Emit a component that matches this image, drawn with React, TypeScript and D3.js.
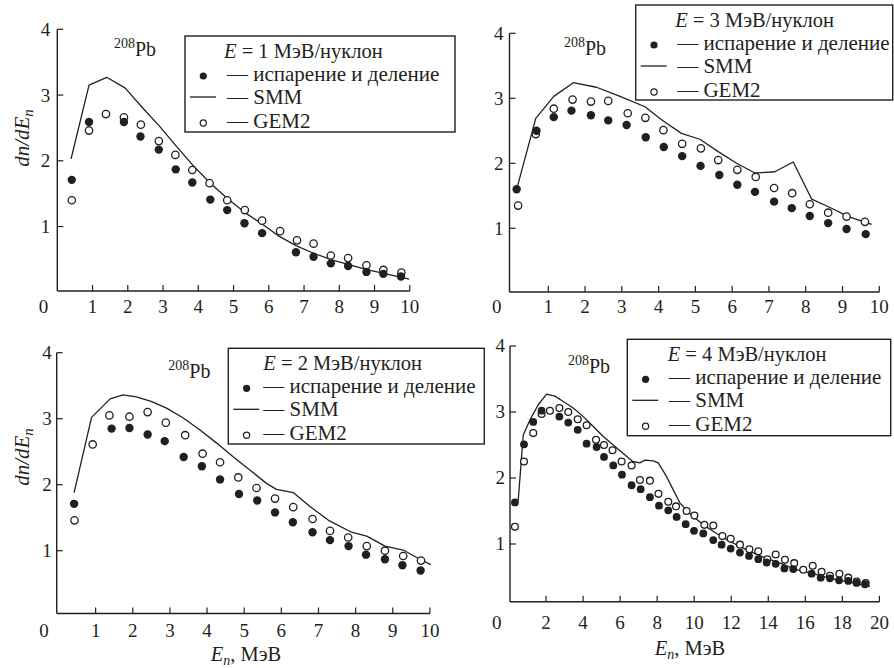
import React from 'react';
import * as d3 from 'd3';

type Pt = [number, number];

// ---------- text / ticks ----------
const energies = ['1', '3', '2', '4'];
const legendLabels = ['испарение и деление', 'SMM', 'GEM2'];
const xTicks10 = [1, 2, 3, 4, 5, 6, 7, 8, 9, 10];
const xTicks20 = [2, 4, 6, 8, 10, 12, 14, 16, 18, 20];
const yTicks = [1, 2, 3, 4];

// ---------- panel 1: E = 1 MeV/nucleon ----------
const p1Evap: Pt[] = [
  [0.41, 1.71], [0.9, 2.59], [1.89, 2.59], [2.36, 2.37], [2.88, 2.17], [3.36, 1.87],
  [3.83, 1.67], [4.34, 1.41], [4.82, 1.25], [5.31, 1.05], [5.81, 0.9], [6.77, 0.61],
  [7.27, 0.54], [7.76, 0.44], [8.25, 0.4], [8.77, 0.31], [9.25, 0.28], [9.75, 0.24],
];
const p1Gem: Pt[] = [
  [0.41, 1.4], [0.9, 2.46], [1.38, 2.71], [1.89, 2.66], [2.37, 2.55], [2.88, 2.3],
  [3.35, 2.09], [3.83, 1.86], [4.32, 1.66], [4.82, 1.4], [5.32, 1.25], [5.81, 1.09],
  [6.32, 0.93], [6.8, 0.79], [7.27, 0.74], [7.76, 0.56], [8.25, 0.52], [8.77, 0.41],
  [9.25, 0.34], [9.76, 0.3],
];
const p1Smm: Pt[] = [
  [0.39, 2.03], [0.9, 3.15], [1.4, 3.27], [1.92, 3.11], [2.43, 2.8], [2.91, 2.52],
  [3.38, 2.22], [3.85, 1.93], [4.32, 1.67], [4.84, 1.42], [5.36, 1.2], [5.83, 1.03],
  [6.3, 0.85], [6.77, 0.71], [7.29, 0.59], [7.81, 0.49], [8.28, 0.42], [8.75, 0.35],
  [9.23, 0.29], [9.98, 0.2],
];

// ---------- panel 2: E = 3 MeV/nucleon ----------
const p2Evap: Pt[] = [
  [0.14, 1.6], [0.68, 2.5], [1.15, 2.71], [1.63, 2.81], [2.16, 2.74], [2.63, 2.66],
  [3.13, 2.59], [3.65, 2.4], [4.14, 2.25], [4.64, 2.11], [5.14, 1.96], [5.65, 1.82],
  [6.14, 1.67], [6.62, 1.56], [7.14, 1.41], [7.62, 1.31], [8.11, 1.19], [8.61, 1.08],
  [9.11, 0.99], [9.63, 0.91],
];
const p2Gem: Pt[] = [
  [0.18, 1.35], [0.66, 2.45], [1.15, 2.84], [1.66, 2.98], [2.16, 2.95], [2.63, 2.96],
  [3.16, 2.77], [3.64, 2.7], [4.13, 2.51], [4.64, 2.3], [5.15, 2.23], [5.62, 2.05],
  [6.14, 1.9], [6.64, 1.79], [7.14, 1.62], [7.63, 1.54], [8.11, 1.37], [8.61, 1.24],
  [9.11, 1.18], [9.61, 1.1],
];
const p2Smm: Pt[] = [
  [0.14, 1.6], [0.66, 2.69], [1.15, 3.03], [1.68, 3.24], [2.31, 3.17], [2.95, 3.03],
  [3.63, 2.87], [4.08, 2.67], [4.62, 2.46], [5.12, 2.37], [5.62, 2.18], [6.12, 2.0],
  [6.62, 1.85], [7.16, 1.87], [7.66, 2.02], [8.16, 1.45], [8.66, 1.32], [9.16, 1.18],
  [9.79, 1.06],
];

// ---------- panel 3: E = 2 MeV/nucleon ----------
const p3Evap: Pt[] = [
  [0.42, 1.71], [1.43, 2.85], [1.91, 2.86], [2.4, 2.76], [2.86, 2.66], [3.37, 2.42],
  [3.86, 2.28], [4.35, 2.08], [4.86, 1.86], [5.35, 1.76], [5.83, 1.58], [6.31, 1.43],
  [6.84, 1.28], [7.31, 1.16], [7.81, 1.07], [8.28, 0.94], [8.79, 0.87], [9.26, 0.78],
  [9.75, 0.7],
];
const p3Gem: Pt[] = [
  [0.43, 1.46], [0.92, 2.61], [1.37, 3.05], [1.91, 3.03], [2.4, 3.1], [2.89, 2.94],
  [3.41, 2.75], [3.88, 2.47], [4.35, 2.34], [4.84, 2.11], [5.33, 1.95], [5.83, 1.79],
  [6.32, 1.66], [6.84, 1.48], [7.31, 1.3], [7.8, 1.2], [8.3, 1.07], [8.79, 1.0],
  [9.28, 0.92], [9.76, 0.85],
];
const p3Smm: Pt[] = [
  [0.42, 1.88], [0.89, 3.02], [1.39, 3.3], [1.74, 3.36], [2.1, 3.33], [2.51, 3.26],
  [2.91, 3.16], [3.36, 3.01], [3.81, 2.83], [4.26, 2.63], [4.71, 2.42], [5.16, 2.22],
  [5.6, 2.02], [5.87, 1.93], [6.32, 1.88], [6.77, 1.67], [7.27, 1.46], [7.89, 1.28],
  [8.3, 1.22], [8.79, 1.07], [9.28, 1.01], [9.73, 0.87], [10.02, 0.79],
];

// ---------- panel 4: E = 4 MeV/nucleon ----------
const p4Evap: Pt[] = [
  [0.32, 1.63], [0.81, 2.51], [1.31, 2.85], [1.76, 3.02], [2.72, 2.93], [3.2, 2.84],
  [3.71, 2.73], [4.19, 2.52], [4.73, 2.47], [5.13, 2.32], [5.63, 2.19], [6.1, 2.05],
  [6.62, 1.89], [7.11, 1.83], [7.61, 1.71], [8.1, 1.58], [8.6, 1.51], [9.05, 1.41],
  [9.54, 1.3], [9.99, 1.2], [10.49, 1.16], [11.03, 1.06], [11.48, 0.99], [11.97, 0.93],
  [12.47, 0.87], [12.96, 0.82], [13.46, 0.77], [13.91, 0.72], [14.4, 0.7], [14.87, 0.63],
  [15.35, 0.62], [16.34, 0.55], [16.83, 0.49], [17.33, 0.48], [17.82, 0.45], [18.32, 0.44],
  [18.77, 0.41], [19.22, 0.39],
];
const p4Gem: Pt[] = [
  [0.32, 1.26], [0.81, 2.25], [1.31, 2.68], [1.76, 2.97], [2.21, 3.02], [2.72, 3.06],
  [3.2, 3.0], [3.71, 2.89], [4.19, 2.8], [4.7, 2.58], [5.13, 2.5], [5.59, 2.42],
  [6.08, 2.25], [6.62, 2.19], [7.07, 1.97], [7.61, 1.96], [8.07, 1.76], [8.6, 1.64],
  [9.02, 1.57], [9.59, 1.5], [10.01, 1.43], [10.55, 1.29], [11.03, 1.28], [11.52, 1.12],
  [11.97, 1.08], [12.47, 0.99], [12.98, 0.92], [13.46, 0.89], [13.95, 0.77], [14.4, 0.84],
  [14.9, 0.76], [15.4, 0.71], [15.89, 0.61], [16.4, 0.67], [16.88, 0.58], [17.33, 0.52],
  [17.84, 0.55], [18.32, 0.49], [18.77, 0.43], [19.26, 0.41],
];
const p4Smm: Pt[] = [
  [0.32, 1.63], [0.5, 1.67], [0.77, 2.65], [1.13, 2.88], [1.58, 3.11], [2.03, 3.27],
  [2.48, 3.24], [2.93, 3.16], [3.47, 3.06], [4.01, 2.93], [4.55, 2.78], [5.09, 2.63],
  [5.63, 2.5], [6.17, 2.37], [6.68, 2.25], [7.07, 2.23], [7.34, 2.27], [7.79, 2.26],
  [8.06, 2.23], [8.51, 2.02], [8.87, 1.82], [9.23, 1.62], [9.77, 1.46], [10.49, 1.29],
  [11.21, 1.16], [11.93, 1.04], [12.83, 0.91], [13.73, 0.8], [14.63, 0.71], [15.53, 0.61],
  [16.43, 0.55], [17.33, 0.48], [18.23, 0.43], [19.49, 0.36],
];

const FONT = 'Liberation Serif';
const INK = '#231f20';

interface Layout {
  xPx: [number, number];
  xMax: number;
  yPx: [number, number];
  axisX: number;
  axisY: number;
  xTicks: number[];
  tickBase: number;
  zeroX: number;
  yLabelDx: number;
  legend: { x: number; y: number; w: number; h: number; textDx: number; titleDx: number };
  pb: [number, number];
  yTitle?: [number, number];
  xTitle?: [number, number];
  r: number;
}

const layouts: Layout[] = [
  {
    xPx: [57.3, 409.8], xMax: 10, yPx: [292.3, 29.3], axisX: 57.3, axisY: 291,
    xTicks: xTicks10, tickBase: 313, zeroX: 43.5, yLabelDx: 7,
    legend: { x: 185, y: 36, w: 270, h: 96, textDx: 42, titleDx: 39 },
    pb: [114, 56], yTitle: [29, 138], r: 4.2,
  },
  {
    xPx: [511.5, 879.3], xMax: 10, yPx: [293.3, 33.3], axisX: 509.5, axisY: 292,
    xTicks: xTicks10, tickBase: 313, zeroX: 496.7, yLabelDx: 6,
    legend: { x: 635.7, y: 5, w: 257, h: 95, textDx: 41.5, titleDx: 39.5 },
    pb: [564, 55], r: 4.2,
  },
  {
    xPx: [58.5, 429.9], xMax: 10, yPx: [616.7, 352.7], axisX: 56.7, axisY: 613.5,
    xTicks: xTicks10, tickBase: 636.5, zeroX: 44, yLabelDx: 5,
    legend: { x: 228.3, y: 348.3, w: 256, h: 95.7, textDx: 35, titleDx: 35 },
    pb: [168.3, 378.3], yTitle: [29, 457], xTitle: [246, 661], r: 4.2,
  },
  {
    xPx: [509, 879.4], xMax: 20, yPx: [610, 346], axisX: 510, axisY: 601.7,
    xTicks: xTicks20, tickBase: 628.5, zeroX: 496.7, yLabelDx: 5,
    legend: { x: 627.3, y: 339.3, w: 263.4, h: 96.4, textDx: 41.7, titleDx: 40.4 },
    pb: [568, 373.3], xTitle: [690, 655], r: 3.9,
  },
];

const panelData: { evap: Pt[]; smm: Pt[]; gem: Pt[] }[] = [
  { evap: p1Evap, smm: p1Smm, gem: p1Gem },
  { evap: p2Evap, smm: p2Smm, gem: p2Gem },
  { evap: p3Evap, smm: p3Smm, gem: p3Gem },
  { evap: p4Evap, smm: p4Smm, gem: p4Gem },
];

function Panel({ L, D, energy }: { L: Layout; D: { evap: Pt[]; smm: Pt[]; gem: Pt[] }; energy: string }) {
  const x = d3.scaleLinear().domain([0, L.xMax]).range(L.xPx);
  const y = d3.scaleLinear().domain([0, 4]).range(L.yPx);
  const line = d3.line<Pt>().x((d) => x(d[0])).y((d) => y(d[1]));
  const lg = L.legend;
  const top = y(4);
  const xEnd = x(L.xMax);
  return (
    <g>
      <line x1={L.axisX} x2={L.axisX} y1={L.axisY} y2={top} stroke={INK} strokeWidth={1.4} />
      <line x1={L.axisX} x2={xEnd} y1={L.axisY} y2={L.axisY} stroke={INK} strokeWidth={1.4} />
      {yTicks.map((t) => (
        <g key={'y' + t}>
          <line x1={L.axisX} x2={L.axisX + 6} y1={y(t)} y2={y(t)} stroke={INK} strokeWidth={1.2} />
          <text x={L.axisX - L.yLabelDx} y={y(t)} dy="0.34em" textAnchor="end" fontFamily={FONT} fontSize={19} fill={INK}>
            {t}
          </text>
        </g>
      ))}
      {L.xTicks.map((t) => (
        <g key={'x' + t}>
          <line x1={x(t)} x2={x(t)} y1={L.axisY} y2={L.axisY - 6} stroke={INK} strokeWidth={1.2} />
          <text x={x(t)} y={L.tickBase} textAnchor="middle" fontFamily={FONT} fontSize={19} fill={INK}>
            {t}
          </text>
        </g>
      ))}
      <text x={L.zeroX} y={L.tickBase} textAnchor="middle" fontFamily={FONT} fontSize={19} fill={INK}>
        0
      </text>

      <path d={line(D.smm) || ''} fill="none" stroke={INK} strokeWidth={1.3} strokeLinejoin="round" />
      {D.gem.map((d, i) => (
        <circle key={'g' + i} cx={x(d[0])} cy={y(d[1])} r={L.r - 0.5} fill="#fff" stroke={INK} strokeWidth={1.3} />
      ))}
      {D.evap.map((d, i) => (
        <circle key={'e' + i} cx={x(d[0])} cy={y(d[1])} r={L.r} fill={INK} />
      ))}

      <text x={L.pb[0]} y={L.pb[1]} fill={INK} fontFamily={FONT} fontSize={20}>
        <tspan fontSize={14} dy={-8}>208</tspan>
        <tspan fontSize={20} dy={8}>Pb</tspan>
      </text>

      <rect x={lg.x} y={lg.y} width={lg.w} height={lg.h} fill="#fff" stroke={INK} strokeWidth={1.4} />
      <text x={lg.x + lg.titleDx} y={lg.y + 22} fontFamily={FONT} fontSize={20.5} fill={INK}>
        <tspan fontStyle="italic">E</tspan>
        <tspan>{' = ' + energy + ' МэВ/нуклон'}</tspan>
      </text>
      <circle cx={lg.x + 18.3} cy={lg.y + 40} r={3.6} fill={INK} />
      <text x={lg.x + lg.textDx} y={lg.y + 45} fontFamily={FONT} fontSize={21} fill={INK}>
        {'— ' + legendLabels[0]}
      </text>
      <line x1={lg.x + 5} x2={lg.x + 31} y1={lg.y + 61} y2={lg.y + 61} stroke={INK} strokeWidth={1.3} />
      <text x={lg.x + lg.textDx} y={lg.y + 67.5} fontFamily={FONT} fontSize={21} fill={INK}>
        {'— ' + legendLabels[1]}
      </text>
      <circle cx={lg.x + 18.3} cy={lg.y + 87} r={3.1} fill="#fff" stroke={INK} strokeWidth={1.2} />
      <text x={lg.x + lg.textDx} y={lg.y + 91.5} fontFamily={FONT} fontSize={21} fill={INK}>
        {'— ' + legendLabels[2]}
      </text>

      {L.yTitle && (
        <text
          transform={`translate(${L.yTitle[0]},${L.yTitle[1]}) rotate(-90)`}
          textAnchor="middle"
          fontFamily={FONT}
          fontSize={21}
          fontStyle="italic"
          fill={INK}
        >
          <tspan>dn/dE</tspan>
          <tspan fontSize={15} dy={4}>n</tspan>
        </text>
      )}
      {L.xTitle && (
        <text x={L.xTitle[0]} y={L.xTitle[1]} textAnchor="middle" fontFamily={FONT} fontSize={20.5} fill={INK}>
          <tspan fontStyle="italic">E</tspan>
          <tspan fontStyle="italic" fontSize={14} dy={4}>n</tspan>
          <tspan dy={-4}>, МэВ</tspan>
        </text>
      )}
    </g>
  );
}

export default function App() {
  return (
    <svg
      width={894}
      height={668}
      style={{ position: 'absolute', left: 0, top: 0, display: 'block', background: '#fff' }}
    >
      <rect width={894} height={668} fill="#fff" />
      {layouts.map((L, i) => (
        <Panel key={i} L={L} D={panelData[i]} energy={energies[i]} />
      ))}
    </svg>
  );
}
